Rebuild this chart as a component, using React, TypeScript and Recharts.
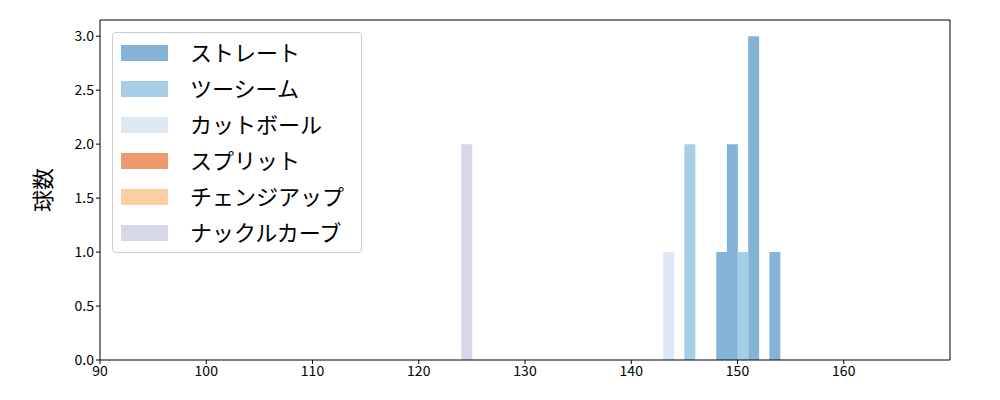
import {
  Bar,
  ComposedChart,
  XAxis,
  YAxis,
} from "recharts";

// histogram bins, 1 km/h wide
const binStart = 90;
const binCount = 80;

const straightBins = [148, 149, 151, 153];
const straightCounts = [1, 2, 3, 1];
const twoSeamBins = [145, 150];
const twoSeamCounts = [2, 1];
const cutBins = [143];
const cutCounts = [1];
const splitBins: number[] = [];
const splitCounts: number[] = [];
const changeupBins: number[] = [];
const changeupCounts: number[] = [];
const knuckleBins = [124];
const knuckleCounts = [2];

const xTicks = [90, 100, 110, 120, 130, 140, 150, 160];
const yTicks = [0, 0.5, 1, 1.5, 2, 2.5, 3];

const series = [
  { key: "straight", name: "ストレート", color: "#83b4d7", bins: straightBins, counts: straightCounts },
  { key: "twoSeam", name: "ツーシーム", color: "#a6cee6", bins: twoSeamBins, counts: twoSeamCounts },
  { key: "cut", name: "カットボール", color: "#dde9f5", bins: cutBins, counts: cutCounts },
  { key: "split", name: "スプリット", color: "#f0996e", bins: splitBins, counts: splitCounts },
  { key: "changeup", name: "チェンジアップ", color: "#fecea6", bins: changeupBins, counts: changeupCounts },
  { key: "knuckle", name: "ナックルカーブ", color: "#d7d7ea", bins: knuckleBins, counts: knuckleCounts },
];

const buildRows = () =>
  Array.from({ length: binCount }, (_, i) => {
    const bin = binStart + i;
    const row: Record<string, number> = { bin };
    series.forEach((s) => {
      const idx = s.bins.indexOf(bin);
      row[s.key] = idx >= 0 ? s.counts[idx] : 0;
    });
    return row;
  });

const FONT = "'Noto Sans CJK JP', 'DejaVu Sans', sans-serif";
const tickStyle = { fontSize: 14, fill: "#000", fontFamily: FONT };

function YLabel() {
  return (
    <text
      x={0}
      y={0}
      transform="translate(51, 190) rotate(-90)"
      textAnchor="middle"
      fontSize={22}
      fontFamily={FONT}
      fill="#000"
    >
      球数
    </text>
  );
}

function LegendBox() {
  return (
    <div
      style={{
        position: "absolute",
        left: 112,
        top: 32,
        width: 250,
        height: 221,
        border: "1px solid #cccccc",
        borderRadius: 4,
        background: "rgba(255,255,255,0.8)",
        fontFamily: FONT,
        fontSize: 22,
        boxSizing: "border-box",
      }}
    >
      {series.map((s, i) => (
        <div
          key={s.key}
          style={{
            position: "absolute",
            left: 8,
            top: 11 + i * 36,
            height: 18,
            display: "flex",
            alignItems: "center",
            whiteSpace: "nowrap",
          }}
        >
          <span
            style={{
              display: "inline-block",
              width: 47,
              height: 16,
              background: s.color,
              marginRight: 22,
            }}
          />
          <span style={{ color: "#000", lineHeight: "22px", position: "relative", top: -2 }}>
            {s.name}
          </span>
        </div>
      ))}
    </div>
  );
}

export default function App() {
  const rows = buildRows();
  return (
    <div style={{ position: "absolute", left: 0, top: 0, width: 1000, height: 400, background: "#fff" }}>
      <ComposedChart
        width={1000}
        height={400}
        data={rows}
        margin={{ top: 19, right: 49, bottom: 10, left: 40 }}
        barCategoryGap={0}
        barGap={0}
      >
        <XAxis xAxisId="bins" dataKey="bin" type="category" hide height={0} />
        <XAxis
          xAxisId="num"
          dataKey="bin"
          type="number"
          domain={[90, 170]}
          allowDataOverflow
          ticks={xTicks}
          tick={tickStyle}
          tickSize={4}
          tickLine={{ stroke: "#000", strokeWidth: 1 }}
          axisLine={{ stroke: "#000", strokeWidth: 1 }}
          height={30}
        />
        <XAxis
          xAxisId="top"
          orientation="top"
          dataKey="bin"
          type="number"
          domain={[90, 170]}
          allowDataOverflow
          ticks={xTicks}
          tick={false}
          tickLine={false}
          axisLine={{ stroke: "#000", strokeWidth: 1 }}
          height={1}
        />
        <YAxis
          yAxisId="left"
          type="number"
          domain={[0, 3.15]}
          allowDataOverflow
          ticks={yTicks}
          tickFormatter={(v: number) => v.toFixed(1)}
          tick={tickStyle}
          tickSize={4}
          tickLine={{ stroke: "#000", strokeWidth: 1 }}
          axisLine={{ stroke: "#000", strokeWidth: 1 }}
          width={60}
          label={<YLabel />}
        />
        <YAxis
          yAxisId="right"
          orientation="right"
          type="number"
          domain={[0, 3.15]}
          allowDataOverflow
          ticks={yTicks}
          tick={false}
          tickLine={false}
          axisLine={{ stroke: "#000", strokeWidth: 1 }}
          width={1}
        />
        {series.map((s) => (
          <Bar
            key={s.key}
            xAxisId="bins"
            yAxisId="left"
            dataKey={s.key}
            name={s.name}
            stackId="pitch"
            fill={s.color}
            isAnimationActive={false}
          />
        ))}
      </ComposedChart>
      <LegendBox />
    </div>
  );
}
